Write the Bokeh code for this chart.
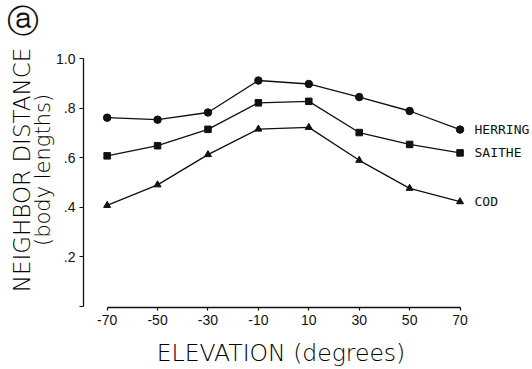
from bokeh.plotting import figure
from bokeh.models import Range1d, FixedTicker, LinearAxis
from bokeh.embed import file_html
from bokeh.resources import INLINE

elevation = [-70, -50, -30, -10, 10, 30, 50, 70]
herring = [0.762, 0.754, 0.783, 0.912, 0.898, 0.845, 0.789, 0.714]
saithe = [0.608, 0.649, 0.715, 0.822, 0.828, 0.702, 0.654, 0.620]
cod = [0.408, 0.491, 0.613, 0.716, 0.723, 0.590, 0.477, 0.423]
species = ["HERRING", "SAITHE", "COD"]
y_ticks = [0, 0.2, 0.4, 0.6, 0.8, 1.0]
y_tick_labels = {0: "", 0.2: ".2", 0.4: ".4", 0.6: ".6", 0.8: ".8", 1.0: "1.0"}
x_tick_labels = {v: str(v) for v in elevation}

ink = "#111111"
title_ink = "#000000"
title_font = "DejaVu Sans Light, DejaVu Sans"
p = figure(width=532, height=369, output_backend="svg", toolbar_location=None,
           x_range=Range1d(-79.38, 77.32), y_range=Range1d(-0.004, 1.1058),
           min_border_left=83, min_border_right=53, min_border_top=32, min_border_bottom=61)
p.outline_line_color = None
p.xgrid.visible = False
p.ygrid.visible = False
p.background_fill_color = "white"
p.border_fill_color = "white"

p.title.text = "\u24d0"
p.title.text_font = "DejaVu Sans"
p.title.text_font_size = "32px"
p.title.text_font_style = "normal"
p.title.text_color = ink
p.title.align = "left"
p.title.offset = -77
p.title.standoff = -14

for ax in (p.xaxis[0], p.yaxis[0]):
    ax.axis_line_color = ink
    ax.axis_line_width = 1.3
    ax.major_tick_line_color = ink
    ax.major_tick_line_width = 1.2
    ax.minor_tick_line_color = None
    ax.major_label_text_font = "Liberation Sans"
    ax.major_label_text_font_size = "14px"
    ax.major_label_text_color = ink

xa = p.xaxis[0]
xa.ticker = FixedTicker(ticks=elevation)
xa.major_label_overrides = x_tick_labels
xa.bounds = (-70, 70)
xa.major_tick_in = 0
xa.major_tick_out = 3
xa.major_label_standoff = 4
xa.axis_label = "ELEVATION (degrees)"
xa.axis_label_text_font = title_font
xa.axis_label_text_font_size = "23.5px"
xa.axis_label_text_font_style = "normal"
xa.axis_label_text_color = title_ink
xa.axis_label_standoff = 11

ya = p.yaxis[0]
ya.ticker = FixedTicker(ticks=y_ticks)
ya.major_label_overrides = y_tick_labels
ya.bounds = (0, 1.0)
ya.major_tick_in = 0
ya.major_tick_out = 4
ya.major_label_standoff = 4


def title_axis(text, size, standoff):
    ax = LinearAxis(ticker=FixedTicker(ticks=[]))
    ax.axis_line_color = None
    ax.major_tick_line_color = None
    ax.minor_tick_line_color = None
    ax.major_tick_out = 0
    ax.major_tick_in = 0
    ax.major_label_standoff = 0
    ax.axis_label = text
    ax.axis_label_text_font = title_font
    ax.axis_label_text_font_size = size
    ax.axis_label_text_font_style = "normal"
    ax.axis_label_text_color = title_ink
    ax.axis_label_standoff = standoff
    return ax


p.add_layout(title_axis("(body lengths)", "21px", -1), "left")
p.add_layout(title_axis("NEIGHBOR DISTANCE", "23px", -7), "left")

ra = LinearAxis(ticker=FixedTicker(ticks=[herring[-1], saithe[-1], cod[-1]]))
ra.major_label_overrides = {herring[-1]: species[0], saithe[-1]: species[1], cod[-1]: species[2]}
ra.axis_line_color = None
ra.major_tick_line_color = None
ra.minor_tick_line_color = None
ra.major_tick_out = 0
ra.major_tick_in = 0
ra.major_label_standoff = -4
ra.major_label_text_font = "DejaVu Sans Mono"
ra.major_label_text_font_size = "13px"
ra.major_label_text_color = ink
p.add_layout(ra, "right")

lw = 1.3
p.line(elevation, herring, line_color=ink, line_width=lw)
p.scatter(elevation, herring, marker="circle", size=7.5, color=ink)
p.line(elevation, saithe, line_color=ink, line_width=lw)
p.scatter(elevation, saithe, marker="square", size=6.5, color=ink)
p.line(elevation, cod, line_color=ink, line_width=lw)
p.scatter(elevation, cod, marker="triangle", size=7, color=ink)

open("out.html", "w").write(file_html(p, INLINE))
